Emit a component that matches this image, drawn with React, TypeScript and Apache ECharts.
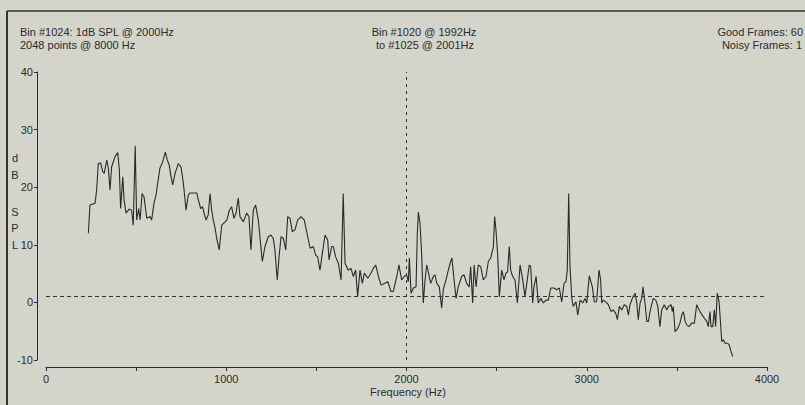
import React, { useEffect, useRef } from "react";
import * as echarts from "echarts";

// Frequency (Hz) of each traced point of the spectrum
const freqHz: number[] = [
  235, 244, 272, 281, 290, 303, 315, 323, 337, 346, 355, 364, 383, 398, 407, 414, 426, 433, 444, 462,
  475, 484, 495, 503, 514, 522, 533, 544, 559, 577, 586, 599, 610, 632, 647, 662, 673, 684, 692, 703,
  716, 734, 749, 762, 777, 789, 799, 836, 845, 858, 869, 877, 888, 900, 910, 919, 928, 938, 947, 961,
  975, 1003, 1017, 1030, 1043, 1054, 1067, 1076, 1095, 1113, 1126, 1137, 1150, 1163, 1178, 1200, 1215, 1233, 1248, 1261,
  1270, 1283, 1293, 1304, 1317, 1330, 1341, 1354, 1366, 1381, 1396, 1415, 1433, 1452, 1465, 1483, 1496, 1507, 1520, 1533,
  1548, 1563, 1570, 1585, 1594, 1607, 1622, 1637, 1649, 1659, 1677, 1692, 1705, 1718, 1729, 1742, 1755, 1766, 1785, 1798,
  1816, 1829, 1844, 1859, 1877, 1896, 1914, 1927, 1946, 1958, 1973, 1988, 2001, 2010, 2016, 2025, 2038, 2053, 2060, 2066,
  2075, 2084, 2093, 2103, 2112, 2121, 2134, 2149, 2158, 2168, 2182, 2195, 2204, 2219, 2232, 2245, 2252, 2264, 2275, 2287,
  2306, 2319, 2334, 2348, 2356, 2367, 2375, 2386, 2398, 2412, 2426, 2441, 2454, 2467, 2482, 2489, 2497, 2506, 2515, 2528,
  2541, 2552, 2561, 2570, 2578, 2589, 2602, 2615, 2630, 2645, 2657, 2670, 2681, 2689, 2700, 2707, 2719, 2731, 2745, 2759,
  2774, 2787, 2800, 2818, 2833, 2848, 2861, 2874, 2885, 2892, 2900, 2907, 2917, 2925, 2940, 2950, 2963, 2978, 2990, 3000,
  3014, 3031, 3042, 3055, 3068, 3077, 3083, 3092, 3105, 3120, 3135, 3147, 3161, 3170, 3181, 3194, 3208, 3222, 3231, 3240,
  3253, 3268, 3277, 3286, 3296, 3305, 3312, 3323, 3333, 3342, 3351, 3360, 3369, 3383, 3394, 3401, 3406, 3416, 3430, 3444,
  3453, 3468, 3475, 3480, 3490, 3505, 3517, 3527, 3536, 3546, 3555, 3567, 3582, 3597, 3610, 3619, 3628, 3641, 3652, 3666,
  3674, 3684, 3689, 3699, 3708, 3715, 3724, 3734, 3741, 3749, 3758, 3767, 3782, 3791, 3800, 3810,
];

// Level (dB SPL) at each of those frequencies
const levelDb: number[] = [
  12.0, 16.9, 17.2, 19.5, 24.1, 24.2, 22.7, 22.4, 24.7, 23.3, 19.5, 23.5, 25.3, 26.0, 23.0, 16.3, 21.8, 17.8, 15.5, 16.2,
  16.0, 13.4, 27.2, 14.3, 16.3, 14.3, 18.9, 18.3, 14.6, 14.9, 14.3, 17.2, 18.6, 23.3, 24.4, 26.1, 24.7, 23.8, 22.1, 20.4,
  22.4, 24.1, 23.5, 20.7, 16.0, 18.6, 19.0, 19.0, 17.8, 16.3, 16.6, 15.5, 14.3, 15.2, 18.9, 16.0, 14.3, 12.9, 11.1, 9.1,
  13.4, 14.3, 16.0, 16.6, 14.6, 15.5, 18.1, 14.9, 14.0, 15.5, 14.9, 9.1, 16.0, 16.9, 14.3, 7.1, 9.7, 11.4, 11.7, 11.1,
  9.1, 3.9, 7.9, 11.4, 11.1, 9.1, 14.9, 14.6, 12.3, 12.6, 14.3, 14.9, 14.3, 11.4, 9.4, 9.7, 8.2, 7.9, 5.6, 8.5,
  11.7, 10.8, 7.4, 9.7, 9.7, 7.9, 6.8, 3.9, 18.9, 6.8, 5.6, 5.9, 4.5, 5.6, 1.0, 5.6, 3.3, 5.1, 4.2, 4.8,
  5.9, 6.5, 4.5, 3.0, 3.3, 3.6, 1.9, 1.9, 4.5, 6.5, 3.9, 4.5, 4.8, 3.6, 7.7, 1.6, 2.5, 2.7, 12.0, 15.7,
  13.7, 8.5, -0.1, 3.9, 6.5, 5.3, 3.3, 4.5, 4.8, 3.3, 2.7, -1.0, 2.2, 3.9, 5.6, 7.1, 7.7, 3.9, 0.7, 2.7,
  4.5, 4.8, 3.3, 2.7, 6.2, -0.1, 6.5, 2.7, 6.5, 6.2, 3.9, 4.5, 7.1, 7.7, 9.7, 14.9, 12.3, 8.2, 1.0, 5.6,
  3.9, 5.1, 5.3, 9.7, 5.6, 4.5, 3.9, -0.1, 6.5, 3.9, 1.0, 3.9, 6.5, 6.2, -0.1, 2.7, 4.5, -0.1, 0.7, -0.1,
  0.4, 0.4, 2.5, 2.5, 2.2, 2.5, 0.1, 3.3, 3.6, 5.6, 18.9, 6.2, 0.7, -0.7, 0.1, -2.2, 0.4, -0.1, 0.7, -0.1,
  4.6, 2.7, 0.1, 0.1, 5.6, 3.9, -0.1, 0.4, 0.1, -0.4, -1.6, -1.3, -1.9, -3.0, -0.7, -1.3, -0.4, -0.7, -2.2, -0.4,
  0.7, 1.6, 0.1, -3.0, -0.1, 0.7, 2.7, -0.1, -3.3, -3.3, -1.6, -0.4, 0.7, 0.4, -0.7, -2.7, -4.2, -1.3, -0.4, -1.3,
  -0.7, -0.4, -1.6, -0.7, -5.1, -4.5, -3.6, -2.2, -1.6, -3.3, -3.9, -4.2, -3.6, -3.6, -0.4, -1.0, -1.6, -2.2, -2.7, -3.3,
  -4.2, -1.6, -4.2, -4.2, -1.3, -4.2, 1.6, 0.1, -3.0, -6.8, -6.5, -7.1, -7.1, -7.4, -8.5, -9.4,
];

const yTicks = { min: -10, max: 40, step: 10 };
const xTicks = { min: 0, max: 4000, step: 500, labelStep: 1000 };
const referenceLevelDb = 1;
const cursorHz = 2000;

const headerLeft = ["Bin #1024: 1dB SPL @ 2000Hz", "2048 points @ 8000 Hz"];
const headerCenter = ["Bin #1020 @ 1992Hz", "to #1025 @ 2001Hz"];
const headerRight = ["Good Frames: 60", "Noisy Frames: 1"];
const yNameLetters = ["d", "B", "S", "P", "L"];
const xName = "Frequency (Hz)";

const FONT = '11px "Liberation Sans", Arial, sans-serif';
const INK = "#2b2b2b";

export default function App() {
  const ref = useRef<HTMLDivElement>(null);

  useEffect(() => {
    document.body.style.margin = "0";
    if (!ref.current) return;
    const chart = echarts.init(ref.current, undefined, { renderer: "svg" });

    const data = freqHz.map((f, i) => [f, levelDb[i]]);

    const txt = (text: string, x: number, y: number, align: string) => ({
      type: "text",
      silent: true,
      style: {
        text,
        x,
        y,
        font: FONT,
        fill: INK,
        textAlign: align,
        align,
        textVerticalAlign: "middle",
        verticalAlign: "middle",
      },
    });

    const letterY = [158, 175, 212, 228, 245];

    chart.setOption({
      animation: false,
      backgroundColor: "#d3d5cb",
      grid: { left: 46, right: 38, top: 72, bottom: 45 },
      xAxis: {
        type: "value",
        min: xTicks.min,
        max: xTicks.max,
        interval: xTicks.step,
        offset: 7,
        splitLine: { show: false },
        axisLine: { show: true, onZero: false, lineStyle: { color: INK, width: 1 } },
        axisTick: { show: true, length: 4, inside: false, lineStyle: { color: INK } },
        axisLabel: {
          margin: 6,
          color: INK,
          fontSize: 11,
          fontFamily: '"Liberation Sans", Arial, sans-serif',
          formatter: (v: number) => (v % xTicks.labelStep === 0 ? String(v) : ""),
        },
      },
      yAxis: {
        type: "value",
        min: yTicks.min,
        max: yTicks.max,
        interval: yTicks.step,
        offset: 9,
        splitLine: { show: false },
        axisLine: { show: true, onZero: false, lineStyle: { color: INK, width: 1 } },
        axisTick: { show: true, length: 3, inside: false, lineStyle: { color: INK } },
        axisLabel: {
          margin: 4,
          color: INK,
          fontSize: 11,
          fontFamily: '"Liberation Sans", Arial, sans-serif',
        },
      },
      series: [
        {
          type: "line",
          data,
          showSymbol: false,
          symbol: "none",
          lineStyle: { color: "#2a2a2a", width: 1.1 },
          silent: true,
          markLine: {
            silent: true,
            symbol: "none",
            label: { show: false },
            lineStyle: { color: "#333333", width: 1, type: [4, 3] },
            data: [
              { yAxis: referenceLevelDb },
              { xAxis: cursorHz, lineStyle: { type: [3, 4] } },
            ],
          },
        },
      ],
      graphic: [
        { type: "line", silent: true, shape: { x1: 7, y1: 11, x2: 805, y2: 11 }, style: { stroke: "#333", lineWidth: 1.5 } },
        { type: "line", silent: true, shape: { x1: 7, y1: 11, x2: 7, y2: 405 }, style: { stroke: "#333", lineWidth: 2 } },
        txt(headerLeft[0], 20, 31.5, "left"),
        txt(headerLeft[1], 20, 45, "left"),
        txt(headerCenter[0], 424, 31.5, "center"),
        txt(headerCenter[1], 425, 45, "center"),
        txt(headerRight[0], 803, 32, "right"),
        txt(headerRight[1], 802, 45, "right"),
        ...yNameLetters.map((l, i) => txt(l, 15, letterY[i], "center")),
        txt(xName, 408, 392, "center"),
      ],
    });

    return () => chart.dispose();
  }, []);

  return <div ref={ref} style={{ width: 805, height: 405 }} />;
}
